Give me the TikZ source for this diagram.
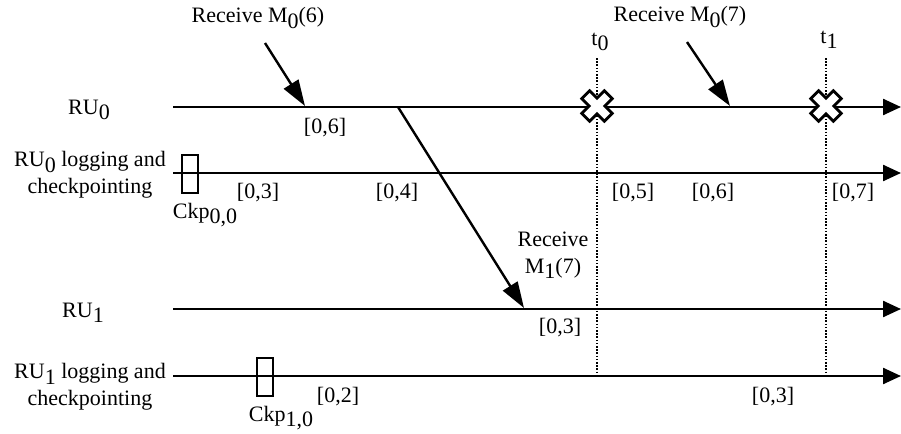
\documentclass[tikz,border=0pt]{standalone}
\usepackage{fontspec}
\setmainfont{Liberation Serif}
\usetikzlibrary{arrows.meta}
\newcommand\lsub[1]{\raisebox{-0.25em}{#1}}
\tikzset{
  lbl/.style={inner sep=0pt, font=\fontsize{11}{13.5}\selectfont, align=center},
  tline/.style={line width=1.2pt, -{Triangle[length=9pt,width=8pt]}},
  recv/.style={line width=1.2pt, -{Triangle[length=13pt,width=8.5pt]}},
  tick/.style={line width=1.1pt, dash pattern=on 0.8pt off 0.8pt},
  ckp/.style={draw, line width=1.1pt, minimum width=8pt, minimum height=19pt, inner sep=0pt},
  xmark/.pic={\draw[line width=1.4pt, fill=white, rotate=45]
     (5.5,16) -- (5.5,5.5) -- (16,5.5) -- (16,-5.5) -- (5.5,-5.5) -- (5.5,-16)
     -- (-5.5,-16) -- (-5.5,-5.5) -- (-16,-5.5) -- (-16,5.5) -- (-5.5,5.5) -- (-5.5,16) -- cycle;}
}
\begin{document}
\begin{tikzpicture}[x=0.5pt,y=-0.5pt]
\useasboundingbox (0,0) rectangle (901,434);
% timeline coordinates
\coordinate (a0s) at (173,107); \coordinate (a0e) at (901,107);
\coordinate (b0s) at (173,173); \coordinate (b0e) at (901,173);
\coordinate (a1s) at (173,309); \coordinate (a1e) at (901,309);
\coordinate (b1s) at (173,376); \coordinate (b1e) at (901,376);
% vertical time markers
\coordinate (t0top) at (597,58); \coordinate (t0bot) at (597,376);
\coordinate (t1top) at (826,58); \coordinate (t1bot) at (826,376);
\draw[tick] (t0top) -- (t0bot);
\draw[tick] (t1top) -- (t1bot);
\node[lbl] (t0) at (600,42) {t\lsub{0}};
\node[lbl] (t1) at (829,40) {t\lsub{1}};
% timelines
\draw[tline] (a0s) -- (a0e);
\draw[tline] (b0s) -- (b0e);
\draw[tline] (a1s) -- (a1e);
\draw[tline] (b1s) -- (b1e);
% left labels
\node[lbl] (ru0) at (89,110) {RU\lsub{0}};
\node[lbl] (ru0l) at (90,175) {RU\lsub{0} logging and\\checkpointing};
\node[lbl] (ru1) at (83,313) {RU\lsub{1}};
\node[lbl] (ru1l) at (90,387) {RU\lsub{1} logging and\\checkpointing};
% checkpoints
\node[ckp] (ck0) at (190,174) {};
\node[lbl] (ck0l) at (205,215) {Ckp\lsub{0,0}};
\node[ckp] (ck1) at (265,377) {};
\node[lbl] (ck1l) at (281,418) {Ckp\lsub{1,0}};
% receive messages
\node[lbl] (r6) at (258,18) {Receive M\lsub{0}(6)};
\coordinate (r6s) at (265,43); \coordinate (r6e) at (305,106);
\draw[recv] (r6s) -- (r6e);
\node[lbl] (r7) at (680,17) {Receive M\lsub{0}(7)};
\coordinate (r7s) at (687,42); \coordinate (r7e) at (730,106);
\draw[recv] (r7s) -- (r7e);
\coordinate (m1s) at (398,107); \coordinate (m1e) at (524,308);
\draw[recv] (m1s) -- (m1e);
\node[lbl] (m1) at (553,255) {Receive\\M\lsub{1}(7)};
% crash marks
\pic at (597,106) {xmark};
\pic at (826,106) {xmark};
% interval labels
\node[lbl] (i1) at (325,128) {[0,6]};
\node[lbl] (i2) at (258,193) {[0,3]};
\node[lbl] (i3) at (397,193) {[0,4]};
\node[lbl] (i4) at (633,193) {[0,5]};
\node[lbl] (i5) at (713,193) {[0,6]};
\node[lbl] (i6) at (853,193) {[0,7]};
\node[lbl] (i7) at (560,328) {[0,3]};
\node[lbl] (i8) at (338,397) {[0,2]};
\node[lbl] (i9) at (773,397) {[0,3]};
\end{tikzpicture}
\end{document}
